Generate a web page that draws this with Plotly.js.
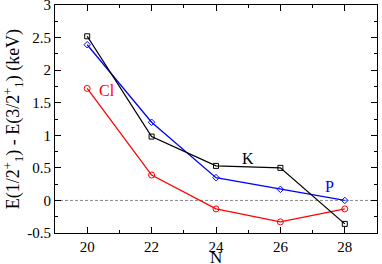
<!DOCTYPE html>
<html><head><meta charset="utf-8">
<script src="https://cdn.plot.ly/plotly-3.0.1.min.js"></script>
<style>html,body{margin:0;padding:0;background:#fff}#c{width:382px;height:264px}</style>
</head><body><div id="c"></div>
<script>
const N = [20, 22, 24, 26, 28];
const K = [2.52, 0.98, 0.53, 0.50, -0.36];
const P = [2.39, 1.20, 0.35, 0.17, 0.00];
const Cl = [1.72, 0.39, -0.13, -0.33, -0.13];
const xTicks = [20, 22, 24, 26, 28];
const yTicks = [-0.5, 0, 0.5, 1, 1.5, 2, 2.5, 3];
const yTickText = ['-0.5', '0', '0.5', '1', '1.5', '2', '2.5', '3'];

const font = 'Liberation Serif';
const mk = (name, y, color, symbol, size) => ({
  x: N, y: y, name: name, type: 'scatter', mode: 'lines+markers',
  line: {color: color, width: 1.3},
  marker: {symbol: symbol, size: size, color: color, line: {color: color, width: 1}}
});
const data = [
  {x: [19, 29], y: [0, 0], mode: 'lines', line: {color: '#888', width: 1, dash: '3px,2px'}, hoverinfo: 'skip', showlegend: false},
  mk('Cl', Cl, '#ff0000', 'circle-open', 6),
  mk('P', P, '#0000ff', 'diamond-open', 5),
  mk('K', K, '#000000', 'square-open', 5)
];
const axisCommon = {
  showgrid: false, zeroline: false, showline: true, mirror: 'ticks',
  linecolor: '#000', linewidth: 1, ticks: 'inside', ticklen: 6, tickcolor: '#000',
  ticklabeloverflow: 'allow',
  tickfont: {family: font, size: 15, color: '#000'}
};
const layout = {
  width: 382, height: 264,
  font: {family: font, color: '#000'},
  margin: {l: 55, r: 5, t: 5, b: 31},
  paper_bgcolor: '#fff', plot_bgcolor: '#fff',
  showlegend: false,
  xaxis: Object.assign({}, axisCommon, {
    range: [19, 29], tickvals: xTicks, ticktext: xTicks.map(String), ticklabelstandoff: 0,
    minor: {ticks: 'inside', ticklen: 3, tickcolor: '#000', dtick: 1, tick0: 19}
  }),
  yaxis: Object.assign({}, axisCommon, {
    range: [-0.5, 3], tickvals: yTicks, ticktext: yTickText,
    minor: {ticks: 'inside', ticklen: 3, tickcolor: '#000', dtick: 0.25, tick0: 0},
    title: {text: 'E(1/2<sup>+</sup><sub>1</sub>) - E(3/2<sup>+</sup><sub>1</sub>) (keV)', font: {family: font, size: 18, color: '#000'}, standoff: 2}
  }),
  annotations: [
    {xref: 'paper', yref: 'paper', x: 0.5, y: -0.108, yanchor: 'middle', text: 'N', showarrow: false, font: {family: font, size: 17, color: '#000'}},
    {x: 20.3, y: 1.68, text: 'Cl', showarrow: false, xanchor: 'left', font: {family: font, size: 16, color: '#ff0000'}},
    {x: 25, y: 0.65, text: 'K', showarrow: false, font: {family: font, size: 16, color: '#000'}},
    {x: 27.54, y: 0.21, text: 'P', showarrow: false, font: {family: font, size: 16, color: '#0000ff'}}
  ]
};
Plotly.newPlot('c', data, layout, {displayModeBar: false, staticPlot: true});
</script></body></html>
